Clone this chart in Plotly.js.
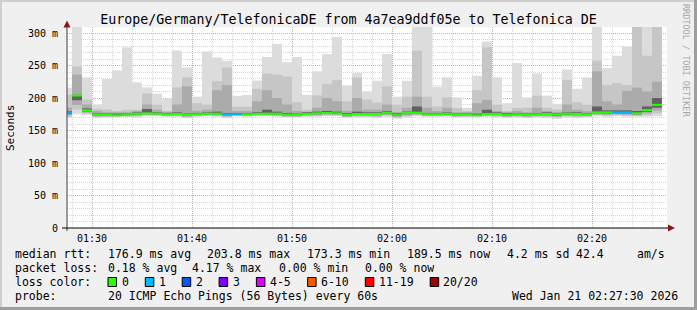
<!DOCTYPE html>
<html><head><meta charset="utf-8">
<script src="https://cdn.plot.ly/plotly-3.0.1.min.js"></script>
<style>html,body{margin:0;padding:0;background:#f0f0f0;}#chart{width:697px;height:310px;}</style>
</head><body><div id="chart"></div>
<script>
// ---- data (one bar per minute, starting 01:27) ----
const startUTC = [2026, 0, 21, 1, 27, 0];
const medianRtt = [177.9,203.8,181.0,174.9,173.8,173.3,173.8,175.9,176.4,175.9,
  174.9,175.4,173.8,174.9,175.9,175.9,174.9,174.9,174.9,175.4,
  175.9,175.9,174.3,173.8,175.4,176.4,176.9,176.4,174.3,175.4,
  175.4,175.4,177.4,174.3,176.9,177.4,174.9,174.9,175.9,173.8,
  174.9,173.3,175.4,175.4,174.3,174.9,173.8,174.9,175.4,174.9,
  175.9,175.4,174.9,177.9,177.9,177.9,177.9,176.4,181.5,189.5];
const lossCount = [1,0,0,0,0,0,0,0,0,0, 0,0,0,0,0,0,1,1,0,0, 0,0,0,0,0,0,0,0,0,0,
  0,0,0,0,0,0,0,0,0,0, 0,0,0,0,0,0,0,0,0,0, 0,0,0,0,0,1,1,0,0,0];
const smokeMin = [169,175,174,169,170,171,171,170,172,172, 171,171,169,171,172,171,169,172,171,172,
  172,171,170,170,171,171,172,172,169,170, 170,169,171,168,170,172,171,171,171,170,
  170,171,171,170,169,170,169,170,169,168, 170,169,170,172,171,172,171,171,171,172];
const smokeMax = [216,320,231.8,189.7,229,242.5,278,224,216.3,206.6, 199,273,247,202,271.7,262.5,257.4,203,204.6,227,
  263,283,255,263,205,241,267.6,293.8,219,238.6, 210,226.6,267.6,202,226.6,320,320,217.4,232,201,
  184.6,234,287,232,192,253.8,201,237.6,203.6,191, 243.6,214.3,231.7,320,246,265,279,320,320,320];
const smokeMid = [205,248.6,197.5,183,182,180,182,182,206.6,189.7, 180,216.3,231.8,192,189.7,225.6,247,186.6,186.6,214,
  237.6,236,233,193.5,182,204,221.8,228,195,231.8, 197.5,193,218,189.7,202,272.8,202,187,201,184.6,
  180,212,278,189.7,180,184.6,185,203.6,185,182, 228,193.5,189.7,257.4,220,223,220,320,265,320];
const smokeDark = [185,236,190,180,178,178,178,180,190,182, 179,190,218,180,182,212,220,180,180,195,
  212,200,190,180,179,185,200,195,180,200, 182,182,190,178,185,202,185,180,185,178,
  178,192,197,180,178,180,178,185,180,178, 190,182,180,241,195,190,211,216,210,225];
const smokeCore = [180,205,184,177,176,176,176,178,183,178, 177,178,176,177,178,179,177,177,177,178,
  182,179,177,176,178,179,180,179,177,179, 178,178,180,177,179,187,177,177,178,176,
  177,176,182,178,177,177,176,177,178,177, 178,178,177,187,181,181,181,180,187,200];
const lossLabels = ['0','1','2','3','4-5','6-10','11-19','20/20'];
const lossColors = ['#26ff00','#00b8ff','#0059ff','#7e00ff','#dd00ff','#ff5500','#ff0000','#a00000'];
const yTickVals = [0,50,100,150,200,250,300];
const yTickText = ['0','50 m','100 m','150 m','200 m','250 m','300 m'];
const titleText = 'Europe/Germany/TelefonicaDE from 4a7ea9ddf05e to Telefonica DE';
const rttStats = ['median rtt:','176.9 ms avg','203.8 ms max','173.3 ms min','189.5 ms now','4.2 ms sd','42.4','am/s'];
const lossStats = ['packet loss:','0.18 % avg','4.17 % max','0.00 % min','0.00 % now'];
const probeText = ['probe:','20 ICMP Echo Pings (56 Bytes) every 60s','Wed Jan 21 02:27:30 2026'];

// ---- helpers ----
const MIN = 60000;
const t0 = Date.UTC.apply(null, startUTC);
function fmt(ms){const d=new Date(ms);const p=n=>String(n).padStart(2,'0');
  return d.getUTCFullYear()+'-'+p(d.getUTCMonth()+1)+'-'+p(d.getUTCDate())+' '+p(d.getUTCHours())+':'+p(d.getUTCMinutes())+':'+p(d.getUTCSeconds());}
const L=67,R=667,T=27,B=228;
const px = x => (x-L)/(R-L);
const py = y => (B-y)/(B-T);
const MONO = 'DejaVu Sans Mono';

const centers = medianRtt.map((_,i)=>fmt(t0+i*MIN+MIN/2));
function layer(top, frac, color){
  const base = smokeMin.map((m,i)=>m+frac*(medianRtt[i]-m));
  return {type:'bar', x:centers, base:base, y:top.map((v,i)=>v-base[i]), width:MIN,
    marker:{color:color, line:{width:0}}, hoverinfo:'skip', showlegend:false};
}
const traces = [
  layer(smokeMax, 0, '#dcdcdc'),
  layer(smokeMid, 0.25, '#c6c6c6'),
  layer(smokeDark, 0.5, '#ababab'),
  layer(smokeCore, 0.75, '#616161')
];
function lossIdx(c){ if(c<=3) return c; if(c<=5) return 4; if(c<=10) return 5; if(c<=19) return 6; return 7; }
const groups = {};
medianRtt.forEach((m,i)=>{
  const k = lossIdx(lossCount[i]);
  if(!groups[k]) groups[k]={x:[],y:[]};
  groups[k].x.push(fmt(t0+i*MIN), fmt(t0+(i+1)*MIN), null);
  groups[k].y.push(m, m, null);
});
Object.keys(groups).forEach(k=>{
  traces.push({type:'scatter', mode:'lines', x:groups[k].x, y:groups[k].y,
    line:{color:lossColors[k], width:2}, hoverinfo:'skip', showlegend:false, connectgaps:false});
});

// ---- annotations ----
const ann = [];
function txt(x,y,t,opt){ ann.push(Object.assign({xref:'paper',yref:'paper',x:px(x),y:py(y),text:t,showarrow:false,
  xanchor:'left',yanchor:'middle',xshift:-2.5,font:{family:MONO,size:11.5,color:'#000'}},opt||{})); }
const rttX = [16,108,207,307,407,507,576,637];
rttStats.forEach((t,i)=>txt(rttX[i],254,t));
const lossX = [16,108,192,279,365];
lossStats.forEach((t,i)=>txt(lossX[i],268,t));
txt(16,282,'loss color:');
const boxX = [108,145.3,182.2,219.1,256.4,307.6,365.3,430.2];
const labX = [122,159,196,233,270,321,379,443];
const shapes = [];
lossLabels.forEach((t,i)=>{
  txt(labX[i],282,t);
  shapes.push({type:'rect',xref:'paper',yref:'paper',x0:px(boxX[i]),x1:px(boxX[i]+8.5),y0:py(277.5),y1:py(286.5),
    fillcolor:lossColors[i],line:{color:'#000',width:1}});
});
txt(16,296,probeText[0]); txt(108,296,probeText[1]); txt(512,296,probeText[2]);
txt(10,128,'Seconds',{textangle:-90,xanchor:'center',xshift:0,font:{family:MONO,size:11,color:'#000'}});
txt(686,60,'RRDTOOL / TOBI OETIKER',{textangle:90,xanchor:'center',xshift:0,font:{family:MONO,size:8.5,color:'#a8a8a8'}});

// frame, axes, arrows
shapes.push({type:'rect',xref:'paper',yref:'paper',x0:px(0),x1:px(697),y0:py(0),y1:py(2),fillcolor:'#cfcfcf',line:{width:0}});
shapes.push({type:'rect',xref:'paper',yref:'paper',x0:px(0),x1:px(2),y0:py(0),y1:py(310),fillcolor:'#cfcfcf',line:{width:0}});
shapes.push({type:'rect',xref:'paper',yref:'paper',x0:px(694),x1:px(697),y0:py(0),y1:py(310),fillcolor:'#9e9e9e',line:{width:0}});
shapes.push({type:'rect',xref:'paper',yref:'paper',x0:px(0),x1:px(697),y0:py(307),y1:py(310),fillcolor:'#9e9e9e',line:{width:0}});
shapes.push({type:'line',xref:'paper',yref:'paper',x0:px(67),x1:px(67),y0:py(231),y1:py(24),line:{color:'#404040',width:1}});
shapes.push({type:'line',xref:'paper',yref:'paper',x0:px(62),x1:px(670),y0:py(228),y1:py(228),line:{color:'#000',width:1}});
shapes.push({type:'path',xref:'paper',yref:'paper',fillcolor:'#8f1414',line:{width:0},
  path:'M '+px(63.5)+' '+py(27.5)+' L '+px(70.5)+' '+py(27.5)+' L '+px(67)+' '+py(20.5)+' Z'});
shapes.push({type:'path',xref:'paper',yref:'paper',fillcolor:'#8f1414',line:{width:0},
  path:'M '+px(668)+' '+py(224.5)+' L '+px(668)+' '+py(231.5)+' L '+px(675)+' '+py(228)+' Z'});

const layout = {
  width:697, height:310,
  margin:{l:L, r:697-R, t:T, b:310-B, pad:0},
  paper_bgcolor:'#f0f0f0', plot_bgcolor:'#ffffff',
  barmode:'overlay', showlegend:false,
  title:{text:titleText, font:{family:MONO,size:13.3,color:'#000'}, x:0.5, xref:'container', xanchor:'center',
    y:1-19/310, yref:'container', yanchor:'middle'},
  xaxis:{type:'date', range:[fmt(t0+MIN/2), fmt(t0+60.5*MIN)], tickmode:'linear', tick0:'2026-01-21 01:30:00', dtick:10*MIN,
    tickformat:'%H:%M', tickfont:{family:MONO,size:10,color:'#000'}, ticks:'', ticklabelstandoff:3,
    showgrid:true, gridcolor:'#e8a0a0', griddash:'1px,1px', gridwidth:1, zeroline:false, showline:false,
    minor:{tickmode:'linear', tick0:'2026-01-21 01:30:00', dtick:2*MIN, showgrid:true, gridcolor:'#d6d6d6', griddash:'1px,1px', ticks:''},
    fixedrange:true},
  yaxis:{range:[0,(B-T)/0.65], tickmode:'array', tickvals:yTickVals, ticktext:yTickText,
    tickfont:{family:MONO,size:10,color:'#000'}, ticks:'', ticklabelstandoff:8,
    showgrid:true, gridcolor:'#e8a0a0', griddash:'1px,1px', gridwidth:1, zeroline:false, showline:false,
    minor:{tickmode:'linear', tick0:0, dtick:10, showgrid:true, gridcolor:'#d6d6d6', griddash:'1px,1px', ticks:''},
    fixedrange:true},
  annotations:ann, shapes:shapes
};
Plotly.newPlot('chart', traces, layout, {staticPlot:true, displayModeBar:false});
</script></body></html>
